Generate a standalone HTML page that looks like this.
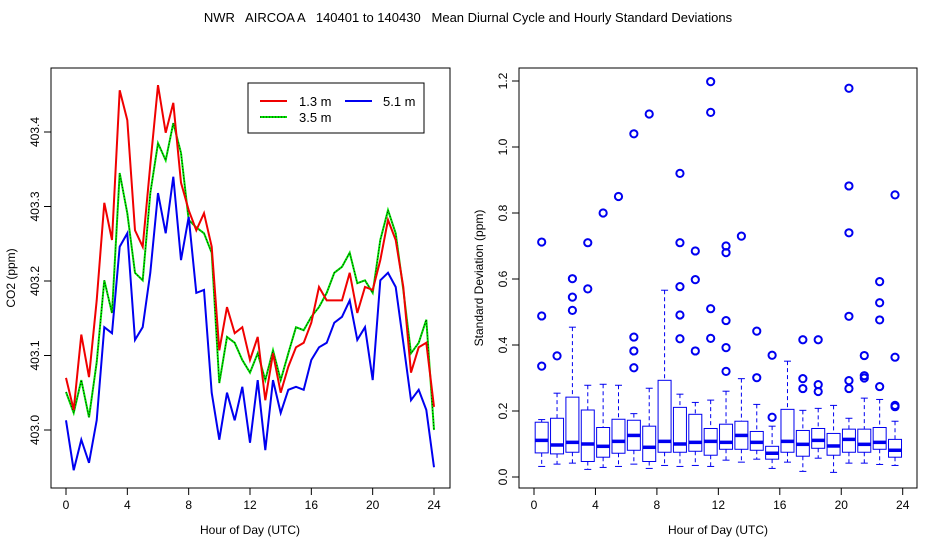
<!DOCTYPE html>
<html><head><meta charset="utf-8"><style>
body{margin:0;background:#fff}
svg{display:block;font-family:"Liberation Sans",sans-serif}
</style></head><body>
<svg id="c" width="936" height="540">
<text x="468" y="22" font-size="13" text-anchor="middle" style="white-space:pre" xml:space="preserve">NWR   AIRCOA A   140401 to 140430   Mean Diurnal Cycle and Hourly Standard Deviations</text>
<g id="left"></g>
<g id="right"></g>
</svg>
<script>
const hours=[0,0.5,1,1.5,2,2.5,3,3.5,4,4.5,5,5.5,6,6.5,7,7.5,8,8.5,9,9.5,10,10.5,11,11.5,12,12.5,13,13.5,14,14.5,15,15.5,16,16.5,17,17.5,18,18.5,19,19.5,20,20.5,21,21.5,22,22.5,23,23.5,24];
const co2_13=[403.070,403.027,403.128,403.071,403.174,403.305,403.255,403.456,403.416,403.268,403.246,403.356,403.463,403.399,403.439,403.332,403.295,403.268,403.291,403.246,403.107,403.165,403.130,403.138,403.094,403.125,403.040,403.103,403.050,403.085,403.111,403.117,403.144,403.192,403.174,403.174,403.174,403.211,403.157,403.192,403.188,403.228,403.282,403.255,403.192,403.077,403.111,403.117,403.031];
const co2_35=[403.051,403.023,403.067,403.017,403.091,403.201,403.157,403.345,403.291,403.211,403.201,403.318,403.385,403.362,403.412,403.372,403.282,403.272,403.264,403.238,403.063,403.125,403.117,403.094,403.077,403.103,403.067,403.107,403.067,403.103,403.138,403.134,403.152,403.165,403.184,403.211,403.219,403.238,403.197,403.201,403.184,403.255,403.295,403.264,403.188,403.103,403.117,403.148,403.000];
const co2_51=[403.013,402.946,402.987,402.956,403.013,403.138,403.130,403.246,403.264,403.121,403.138,403.211,403.318,403.264,403.340,403.228,403.286,403.184,403.188,403.050,402.987,403.050,403.013,403.058,402.983,403.067,402.973,403.067,403.023,403.054,403.058,403.054,403.094,403.111,403.117,403.144,403.152,403.174,403.121,403.138,403.067,403.201,403.211,403.192,403.117,403.040,403.054,403.027,402.950];
const xTicks=[0,4,8,12,16,20,24];
const leftYTicks=[403.0,403.1,403.2,403.3,403.4];
const rightYTicks=[0.0,0.2,0.4,0.6,0.8,1.0,1.2];
const boxHours=[0,1,2,3,4,5,6,7,8,9,10,11,12,13,14,15,16,17,18,19,20,21,22,23];
const whiskLo=[0.032,0.039,0.042,0.023,0.029,0.032,0.039,0.026,0.035,0.032,0.035,0.032,0.051,0.045,0.054,0.026,0.045,0.017,0.057,0.014,0.042,0.042,0.038,0.035];
const q1=[0.073,0.070,0.075,0.047,0.060,0.072,0.081,0.047,0.075,0.075,0.078,0.066,0.084,0.084,0.081,0.054,0.075,0.063,0.087,0.066,0.075,0.075,0.084,0.060];
const med=[0.111,0.097,0.105,0.100,0.093,0.108,0.126,0.090,0.108,0.100,0.105,0.108,0.105,0.126,0.105,0.072,0.108,0.099,0.111,0.094,0.114,0.099,0.105,0.081];
const q3=[0.166,0.178,0.242,0.203,0.150,0.175,0.172,0.154,0.293,0.211,0.190,0.147,0.160,0.169,0.138,0.093,0.205,0.141,0.147,0.132,0.145,0.145,0.150,0.114];
const whiskHi=[0.174,0.254,0.454,0.278,0.281,0.278,0.192,0.269,0.566,0.251,0.226,0.233,0.260,0.298,0.220,0.154,0.351,0.202,0.208,0.217,0.178,0.239,0.235,0.169];
const outliers=[[0.488,0.336,0.712],[0.367],[0.601,0.545,0.505],[0.570,0.710],[0.800],[0.850],[0.424,0.382,0.331,1.040],[1.100],[],[0.577,0.491,0.419,0.920,0.710],[0.598,0.382,0.685],[0.510,0.420,1.105,1.198],[0.474,0.392,0.320,0.700,0.680],[0.730],[0.442,0.301],[0.369,0.181],[],[0.416,0.298,0.268],[0.416,0.280,0.259],[],[0.487,0.292,0.268,0.740,0.882,1.178],[0.368,0.307,0.300],[0.592,0.528,0.476,0.274],[0.363,0.217,0.213,0.855]];

const NS="http://www.w3.org/2000/svg";
function mk(parent,tag,attrs,text){const e=document.createElementNS(NS,tag);for(const k in attrs)e.setAttribute(k,attrs[k]);if(text!==undefined)e.textContent=text;parent.appendChild(e);return e;}

const L=document.getElementById('left');
const lx=h=>66+h*(368/24);
const ly=v=>430-(v-403.0)*745;
let e=mk(L,'rect',{x:51,y:68,width:399,height:420,fill:'none',stroke:'#000','stroke-width':1});


xTicks.forEach(t=>{
  e=mk(L,'line',{x1:lx(t),x2:lx(t),y1:488,y2:495,stroke:'#000'});
  
  
  e=mk(L,'text',{x:lx(t),y:509,'font-size':12,'text-anchor':'middle'},String(t));
  
  
});
leftYTicks.forEach(t=>{
  const y=ly(t);
  e=mk(L,'line',{x1:44,x2:51,y1:y,y2:y,stroke:'#000'});
  
  
  e=mk(L,'text',{x:0,y:0,'font-size':12,'text-anchor':'middle',transform:`translate(39,${y}) rotate(-90)`},t.toFixed(1));
  
  
});
e=mk(L,'text',{x:250,y:534,'font-size':12,'text-anchor':'middle'},'Hour of Day (UTC)');


e=mk(L,'text',{x:0,y:0,'font-size':12,'text-anchor':'middle',transform:'translate(15,278) rotate(-90)'},'CO2 (ppm)');


function path(arr){return arr.map((v,i)=>(i?'L':'M')+lx(hours[i]).toFixed(1)+','+ly(v).toFixed(1)).join('');}
e=mk(L,'path',{d:path(co2_35),fill:'none',stroke:'#00e000','stroke-width':2});


e=mk(L,'path',{d:path(co2_35),fill:'none',stroke:'#000','stroke-width':0.8,'stroke-dasharray':'1,2'});


e=mk(L,'path',{d:path(co2_13),fill:'none',stroke:'#f00000','stroke-width':2});


e=mk(L,'path',{d:path(co2_51),fill:'none',stroke:'#0000f0','stroke-width':2});


const lg=mk(L,'g',{});


mk(lg,'rect',{x:248,y:83,width:176,height:50,fill:'#fff',stroke:'#000'});
e=mk(lg,'line',{x1:260,x2:287,y1:101,y2:101,stroke:'#f00000','stroke-width':2});


mk(lg,'text',{x:299,y:106,'font-size':13},'1.3 m');
e=mk(lg,'line',{x1:345,x2:372,y1:101,y2:101,stroke:'#0000f0','stroke-width':2});


mk(lg,'text',{x:383,y:106,'font-size':13},'5.1 m');
e=mk(lg,'line',{x1:260,x2:287,y1:117,y2:117,stroke:'#00e000','stroke-width':2});


mk(lg,'line',{x1:260,x2:287,y1:117,y2:117,stroke:'#000','stroke-width':0.8,'stroke-dasharray':'1,2'});
mk(lg,'text',{x:299,y:122,'font-size':13},'3.5 m');

const R=document.getElementById('right');
const rx=h=>534+h*(368.7/24);
const ry=v=>477-v*330;
e=mk(R,'rect',{x:519,y:68,width:398,height:420,fill:'none',stroke:'#000','stroke-width':1});


xTicks.forEach(t=>{
  e=mk(R,'line',{x1:rx(t),x2:rx(t),y1:488,y2:495,stroke:'#000'});
  
  
  e=mk(R,'text',{x:rx(t),y:509,'font-size':12,'text-anchor':'middle'},String(t));
  
  
});
rightYTicks.forEach(t=>{
  const y=ry(t);
  e=mk(R,'line',{x1:512,x2:519,y1:y,y2:y,stroke:'#000'});
  
  
  e=mk(R,'text',{x:0,y:0,'font-size':12,'text-anchor':'middle',transform:`translate(507,${y}) rotate(-90)`},t.toFixed(1));
  
  
});
e=mk(R,'text',{x:718,y:534,'font-size':12,'text-anchor':'middle'},'Hour of Day (UTC)');


e=mk(R,'text',{x:0,y:0,'font-size':12,'text-anchor':'middle',transform:'translate(483,278) rotate(-90)'},'Standard Deviation (ppm)');


const B='#0000f0';
boxHours.forEach((h,i)=>{
  const cx=rx(h+0.5), w=13;
  const g=mk(R,'g',{});
  
  
  mk(g,'line',{x1:cx,x2:cx,y1:ry(whiskHi[i]),y2:ry(q3[i]),stroke:B,'stroke-dasharray':'4,3'});
  mk(g,'line',{x1:cx,x2:cx,y1:ry(q1[i]),y2:ry(whiskLo[i]),stroke:B,'stroke-dasharray':'4,3'});
  mk(g,'line',{x1:cx-3.5,x2:cx+3.5,y1:ry(whiskHi[i]),y2:ry(whiskHi[i]),stroke:B});
  mk(g,'line',{x1:cx-3.5,x2:cx+3.5,y1:ry(whiskLo[i]),y2:ry(whiskLo[i]),stroke:B});
  mk(g,'rect',{x:cx-w/2,y:ry(q3[i]),width:w,height:ry(q1[i])-ry(q3[i]),fill:'none',stroke:B});
  mk(g,'line',{x1:cx-w/2,x2:cx+w/2,y1:ry(med[i]),y2:ry(med[i]),stroke:B,'stroke-width':3.5});
  outliers[i].forEach(o=>{
    const c=mk(g,'circle',{cx:cx,cy:ry(o),r:3.6,fill:'none',stroke:B,'stroke-width':2});
    
    
  });
});
</script>
</body></html>
